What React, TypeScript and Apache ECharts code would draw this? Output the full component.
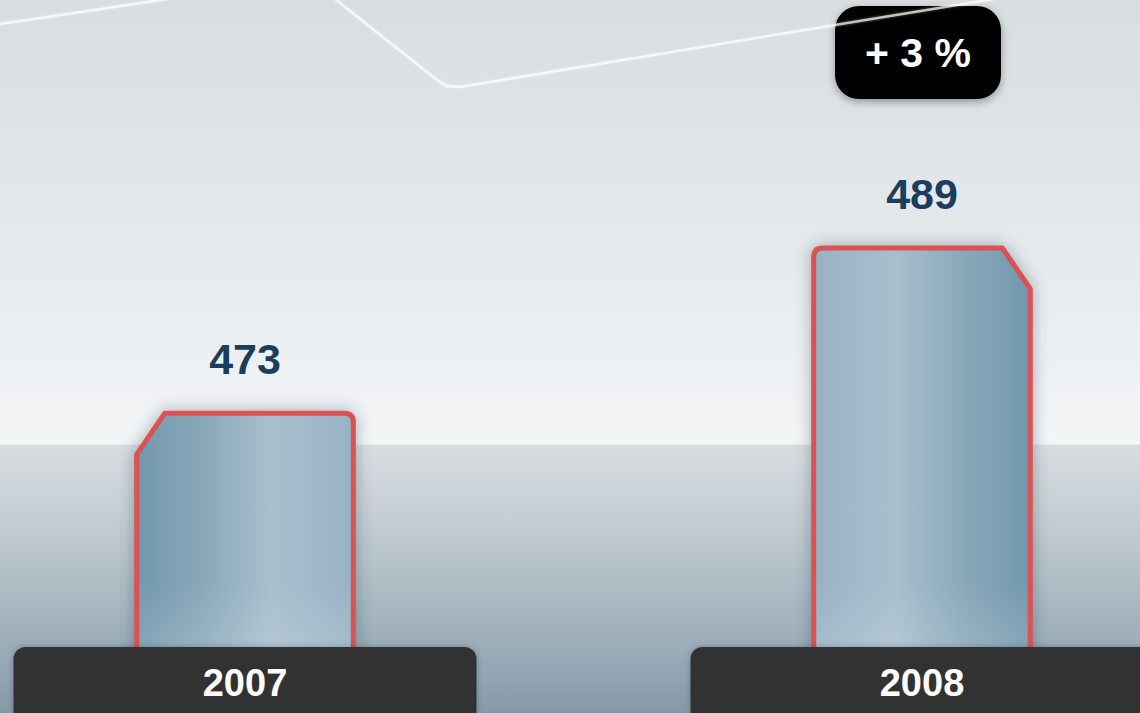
import React, { useEffect, useRef } from "react";
import * as echarts from "echarts";

const years: string[] = ["2007", "2008"];
const values: number[] = [473, 489];
const changeLabel = "+ 3 %";
const Y_MIN = 444;
const Y_MAX = 513;

export default function App() {
  const ref = useRef<HTMLDivElement>(null);

  useEffect(() => {
    if (!ref.current) return;
    const chart = echarts.init(ref.current, null, { renderer: "svg" });
    const font = "'Liberation Sans', Arial, Helvetica, sans-serif";

    const lineStyle = {
      stroke: "rgba(255,255,255,0.7)",
      lineWidth: 2.5,
      fill: null,
      shadowBlur: 3,
      shadowColor: "rgba(255,255,255,0.5)",
    };

    const option: any = {
      animation: false,
      backgroundColor: new echarts.graphic.LinearGradient(0, 0, 0, 1, [
        { offset: 0, color: "#d8dde1" },
        { offset: 0.3, color: "#e4e8eb" },
        { offset: 0.622, color: "#f3f5f7" },
        { offset: 0.625, color: "#d9dde0" },
        { offset: 0.73, color: "#c4cdd3" },
        { offset: 0.84, color: "#aab9c2" },
        { offset: 0.94, color: "#93a7b4" },
        { offset: 1, color: "#8599a7" },
      ]),
      grid: {
        left: 245,
        right: 218,
        top: 0,
        bottom: 0,
        containLabel: false,
        outerBoundsMode: "none",
      },
      xAxis: {
        type: "category",
        data: years,
        boundaryGap: false,
        z: 10,
        axisLine: { show: false },
        axisTick: { show: false },
        axisLabel: {
          show: true,
          inside: true,
          margin: 0,
          interval: 0,
          color: "#ffffff",
          fontFamily: font,
          fontSize: 38,
          fontWeight: "bold",
          backgroundColor: "#333333",
          borderRadius: [12, 12, 0, 0],
          width: 463,
          height: 60,
          lineHeight: 60,
          align: "center",
          padding: [6, 0, 0, 0],
          shadowBlur: 6,
          shadowColor: "rgba(0,0,0,0.25)",
        },
        splitLine: { show: false },
      },
      yAxis: {
        type: "value",
        min: Y_MIN,
        max: Y_MAX,
        show: false,
        splitLine: { show: false },
      },
      graphic: [
        {
          type: "polyline",
          z: 1,
          shape: { points: [[0, 24], [168, -1]] },
          style: lineStyle,
        },
        {
          type: "polyline",
          z: 1,
          shape: {
            points: [
              [335, -1],
              [437, 80],
              [447, 86],
              [460, 87],
              [835, 25],
              [1000, -2],
            ],
          },
          style: lineStyle,
        },
        {
          type: "group",
          z: 20,
          children: [
            {
              type: "rect",
              shape: { x: 835, y: 6, width: 166, height: 93, r: 24 },
              style: {
                fill: "#000000",
                shadowBlur: 8,
                shadowOffsetY: 3,
                shadowColor: "rgba(0,0,0,0.35)",
              },
            },
            {
              type: "text",
              x: 918,
              y: 53,
              style: {
                text: changeLabel,
                fill: "#ffffff",
                font: `bold 41px ${font}`,
                align: "center",
                verticalAlign: "middle",
              },
            },
          ],
        },
      ],
      series: [
        {
          type: "custom",
          z: 2,
          data: years.map((_, i) => [i, values[i]]),
          encode: { x: 0, y: 1 },
          renderItem: (params: any, api: any) => {
            const idx = api.value(0);
            const v = api.value(1);
            const top = api.coord([idx, v]);
            const base = api.coord([idx, Y_MIN]);
            const bandW = api.size([1, 0])[0];
            const w = bandW * 0.32;
            const cx = top[0];
            const x0 = cx - w / 2;
            const x1 = cx + w / 2;
            const y0 = top[1];
            const yb = base[1] + 10;
            const cw = 28;
            const ch = 41;
            const r = 9;
            const chamferLeft = params.dataIndex === 0;
            let d: string;
            if (chamferLeft) {
              d =
                `M ${x0} ${yb} L ${x0} ${y0 + ch} L ${x0 + cw} ${y0} ` +
                `L ${x1 - r} ${y0} Q ${x1} ${y0} ${x1} ${y0 + r} L ${x1} ${yb} Z`;
            } else {
              d =
                `M ${x0} ${yb} L ${x0} ${y0 + r} Q ${x0} ${y0} ${x0 + r} ${y0} ` +
                `L ${x1 - cw} ${y0} L ${x1} ${y0 + ch} L ${x1} ${yb} Z`;
            }
            const stops = chamferLeft
              ? [
                  { offset: 0, color: "#7298ad" },
                  { offset: 0.3, color: "#88a8ba" },
                  { offset: 0.62, color: "#a8bfcd" },
                  { offset: 0.8, color: "#a1b9ca" },
                  { offset: 1, color: "#97b2c4" },
                ]
              : [
                  { offset: 0, color: "#97b2c4" },
                  { offset: 0.2, color: "#a1b9ca" },
                  { offset: 0.38, color: "#a8bfcd" },
                  { offset: 0.7, color: "#88a8ba" },
                  { offset: 1, color: "#7298ad" },
                ];
            return {
              type: "group",
              children: [
                {
                  type: "path",
                  shape: { pathData: d },
                  style: {
                    fill: new echarts.graphic.LinearGradient(0, 0, 1, 0, stops),
                    stroke: "#d95353",
                    lineWidth: 5,
                    lineJoin: "round",
                    shadowBlur: 16,
                    shadowColor: "rgba(40,60,80,0.4)",
                  },
                },
                {
                  type: "rect",
                  shape: { x: x0 + 3, y: yb - 140, width: w - 6, height: 137 },
                  style: {
                    fill: new echarts.graphic.LinearGradient(0, 0, 0, 1, [
                      { offset: 0, color: "rgba(255,255,255,0)" },
                      { offset: 1, color: "rgba(255,255,255,0.28)" },
                    ]),
                  },
                },
                {
                  type: "text",
                  x: cx,
                  y: y0 - 54,
                  style: {
                    text: String(v),
                    fill: "#1b3e5d",
                    font: `bold 43px ${font}`,
                    align: "center",
                    verticalAlign: "middle",
                  },
                },
              ],
            };
          },
        },
      ],
    };

    chart.setOption(option);
    return () => {
      chart.dispose();
    };
  }, []);

  return (
    <div
      ref={ref}
      style={{ position: "absolute", left: 0, top: 0, width: 1140, height: 713 }}
    />
  );
}
